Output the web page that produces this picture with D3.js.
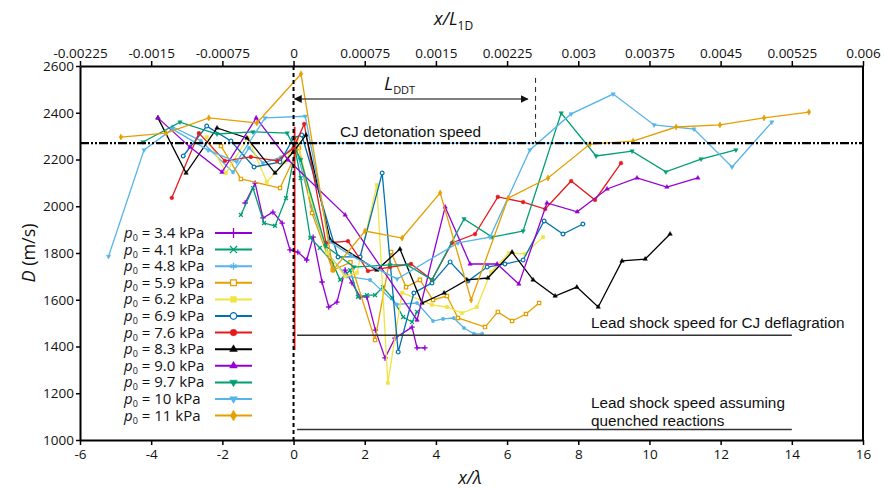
<!DOCTYPE html>
<html>
<head>
<meta charset="utf-8">
<script src="https://cdn.jsdelivr.net/npm/d3@7"></script>
<style>
body { margin: 0; background: #fff; }
text { font-family: "Open Sans", sans-serif; fill: #111; }
</style>
</head>
<body>
<div id="chart"></div>
<script>
// Variables
var width = 885,
	height = 489,
	plotLeft = 80, plotRight = 863, plotTop = 66, plotBottom = 440;

// Data : [x/lambda, D (m/s)]
var pressures = ["3.4", "4.1", "4.8", "5.9", "6.2", "6.9", "7.6", "8.3", "9.0", "9.7", "10", "11"];
var colors = ["#9400d3", "#009e73", "#56b4e9", "#e69f00", "#f0e442", "#0072b2", "#e41a1c", "#000000", "#9400d3", "#009e73", "#56b4e9", "#e69f00"];
var markers = ["plus", "times", "asterisk", "squareOpen", "square", "circleOpen", "circle", "triUp", "triUp", "triDown", "triDown", "diamond"];

var s34 = [[-1.36,2014],[-1.08,2099],[-0.86,1950],[-0.58,1975],[-0.32,1928],[-0.1,1813],[0.12,1804],[0.37,1770],[0.55,1868],[0.8,1676],[0.99,1569],[1.22,1590],[1.45,1727],[1.64,1672],[1.87,1612],[2.06,1612],[2.3,1470],[2.57,1351],[2.85,1436],[3.33,1483],[3.47,1394],[3.69,1394]];
var s41 = [[-1.48,1963],[-1.14,2078],[-0.83,1928],[-0.52,1916],[-0.21,2035],[0.05,2240],[0.2,2120],[0.47,1865],[0.74,1822],[1.08,1762],[1.31,1685],[1.59,1727],[1.81,1612],[2.06,1620],[2.29,1620],[2.51,1654],[2.77,1608],[3.08,1526],[3.33,1505],[3.47,1548]];
var s48 = [[-3.4,2340],[-2.6,2280],[-1.7,2146],[-1.25,2250],[-0.86,2185],[-0.35,2210],[0.05,2260],[0.5,2000],[1.0,1790],[1.5,1700],[2.15,1685],[2.9,1580],[3.47,1586],[3.92,1509],[4.2,1518],[4.5,1522],[4.79,1479],[5.07,1454],[5.3,1454]];
var s59 = [[-2.04,2258],[-1.48,2117],[-0.38,2078],[0.15,2250],[0.52,1971],[1.1,1727],[1.6,1760],[2.29,1428],[2.74,1804],[3.16,1654],[3.55,1685],[3.92,1599],[4.31,1616],[4.62,1522],[5.38,1483],[5.74,1548],[6.14,1509],[6.53,1539],[6.9,1586]];
var s62 = [[-2.44,2296],[-1.9,2142],[-1.28,2292],[-0.75,2104],[-0.24,2189],[0.1,2290],[0.45,2050],[0.95,1800],[1.45,1700],[1.78,1715],[2.34,2091],[2.65,1244],[3.05,1630],[3.89,1578],[4.31,1569],[4.73,1543],[5.15,1569],[5.55,1719],[6.05,1800],[6.5,1796],[7.01,1868]];
var s69 = [[-3.1,2215],[-2.44,2343],[-1.76,2279],[-1.11,2168],[-0.38,2189],[0.0,2292],[0.23,2305],[1.25,1783],[1.87,1783],[2.49,2142],[2.94,1376],[3.38,1629],[3.89,1672],[4.4,1762],[4.9,1680],[5.44,1740],[5.94,1753],[6.45,1770],[7.04,1937],[7.57,1881],[8.13,1924]];
var s76 = [[-3.42,2036],[-2.66,2313],[-1.93,2194],[-1.2,2211],[-0.46,2194],[0.0,2249],[0.3,2352],[0.91,1843],[1.53,1851],[2.09,1723],[2.71,1740],[3.3,1753],[3.89,1685],[4.45,1843],[5.1,1881],[5.74,2040],[6.45,2018],[7.07,1988],[7.8,2108],[8.47,2027],[9.2,2185]];
var s83 = [[-3.81,2378],[-3.02,2142],[-2.15,2335],[-1.31,2292],[-0.52,2142],[-0.01,2232],[0.35,2305],[1.03,1856],[2.34,1727],[2.99,1817],[3.61,1586],[4.23,1629],[4.87,1685],[5.46,1693],[6.14,1804],[6.73,1685],[7.35,1616],[7.96,1654],[8.56,1569],[9.23,1766],[9.88,1774],[10.58,1881]];
var s90 = [[-3.81,2378],[-2.91,2253],[-2.01,2146],[-1.05,2378],[-0.15,2198],[1.45,1963],[3.47,1513],[4.26,1997],[4.96,1753],[5.72,1753],[6.33,1667],[7.12,2014],[7.97,1976],[8.81,2074],[9.65,2121],[10.49,2082],[11.36,2121]];
var s97 = [[-4.23,2275],[-3.19,2360],[-2.15,2309],[-1.14,2318],[-0.18,2313],[0.2,2200],[0.9,1830],[1.7,1740],[2.71,1749],[3.19,1749],[3.89,1685],[4.79,1946],[5.58,1868],[6.45,1894],[7.52,2399],[8.5,2215],[9.51,2236],[10.46,2147],[11.45,2202],[12.43,2241]];
var s10 = [[-5.2,1785],[-4.2,2241],[-3.4,2330],[-2.4,2240],[-1.6,2190],[-0.8,2378],[0.33,2385],[1.0,1850],[1.6,1790],[2.91,1689],[4.62,1843],[5.52,1868],[6.64,2241],[7.8,2395],[8.98,2480],[10.13,2348],[11.25,2330],[12.32,2168],[13.44,2360]];
var s11 = [[-4.85,2296],[-3.58,2313],[-2.38,2378],[-1.03,2356],[0.21,2566],[1.11,1727],[2.01,1894],[3.05,1864],[4.12,2057],[4.99,1599],[6.03,2035],[7.15,2121],[8.33,2266],[9.54,2279],[10.75,2339],[11.98,2348],[13.22,2378],[14.48,2403]];
var allSeries = [s34, s41, s48, s59, s62, s69, s76, s83, s90, s97, s10, s11];

// reference values
var cjSpeed = 2270, cjDeflag = 1448, quenched = 1045;
var refStart = 0.1, refEnd = 14;
var lddt = 6.8, lddtArrowY = 2459, lddtTop = 2549;
var redDrop = [[0.03,2340],[0.03,1385]];
var cjBlue = [[0.05,2270],[8.3,2270]];

var xTicks = [-6,-4,-2,0,2,4,6,8,10,12,14,16];
var topTicks = [-0.00225,-0.0015,-0.00075,0,0.00075,0.0015,0.00225,0.003,0.00375,0.0045,0.00525,0.006];
var yTicks = [1000,1200,1400,1600,1800,2000,2200,2400,2600];

var svg = d3.select("#chart")
	.append("svg")
	.attr("width", width)
	.attr("height", height);

var x = d3.scaleLinear().domain([-6, 16]).range([plotLeft, plotRight]),
	xTop = d3.scaleLinear().domain([-0.00225, 0.006]).range([plotLeft, plotRight]),
	y = d3.scaleLinear().domain([1000, 2600]).range([plotBottom, plotTop]);

var line = d3.line()
	.x(function(d) { return x(d[0]); })
	.y(function(d) { return y(d[1]); });

// symbols
function symbolPath(kind, size) {
	var t = {
		plus: d3.symbolPlus, times: d3.symbolTimes, asterisk: d3.symbolAsterisk,
		squareOpen: d3.symbolSquare, square: d3.symbolSquare,
		circleOpen: d3.symbolCircle, circle: d3.symbolCircle,
		triUp: d3.symbolTriangle, triDown: d3.symbolTriangle, diamond: d3.symbolDiamond
	}[kind];
	return d3.symbol().type(t).size(size)();
}
function drawMarker(g, kind, col, cx, cy, size) {
	var strokeOnly = (kind == "plus" || kind == "times" || kind == "asterisk");
	var open = (kind == "squareOpen" || kind == "circleOpen");
	var tri = (kind == "triUp" || kind == "triDown");
	g.append("path")
		.attr("d", symbolPath(kind, tri ? size * 0.75 : size))
		.attr("transform", "translate(" + cx + "," + cy + ")" + (kind == "triDown" ? " rotate(180)" : ""))
		.attr("fill", strokeOnly ? "none" : (open ? "#fff" : col))
		.attr("stroke", col)
		.attr("stroke-width", strokeOnly ? 1.3 : (open ? 1.2 : 0.5));
}

// light blue trace under CJ line
svg.append("path")
	.datum(cjBlue)
	.attr("d", line)
	.attr("stroke", "#56b4e9")
	.attr("stroke-width", 1.2)
	.attr("fill", "none");

// series
var plot = svg.append("g");
allSeries.forEach(function(s, i) {
	plot.append("path")
		.datum(s)
		.attr("d", line)
		.attr("fill", "none")
		.attr("stroke", colors[i])
		.attr("stroke-width", 1.3);
	var mg = plot.append("g");
	s.forEach(function(d) {
		drawMarker(mg, markers[i], colors[i], x(d[0]), y(d[1]), 11);
	});
});

svg.append("path")
	.datum(redDrop)
	.attr("d", line)
	.attr("stroke", "#e41a1c")
	.attr("stroke-width", 1.8)
	.attr("fill", "none");

// CJ detonation line
svg.append("line")
	.attr("x1", x(-6)).attr("x2", x(16))
	.attr("y1", y(cjSpeed)).attr("y2", y(cjSpeed))
	.attr("stroke", "#000")
	.attr("stroke-width", 2.4)
	.attr("stroke-dasharray", "9,2,2,2,2,2");
var noteFont = "'Liberation Sans', Arial, sans-serif";
svg.append("text")
	.attr("x", 340).attr("y", y(cjSpeed) - 6)
	.style("font-family", noteFont)
	.style("font-size", "15.4px")
	.text("CJ detonation speed");

// x = 0 dashed line
svg.append("line")
	.attr("x1", x(0)).attr("x2", x(0))
	.attr("y1", plotTop).attr("y2", plotBottom)
	.attr("stroke", "#000")
	.attr("stroke-width", 2)
	.attr("stroke-dasharray", "4,3");

// Lead shock lines
[cjDeflag, quenched].forEach(function(v) {
	svg.append("line")
		.attr("x1", x(refStart)).attr("x2", x(refEnd))
		.attr("y1", y(v)).attr("y2", y(v))
		.attr("stroke", "#333")
		.attr("stroke-width", 1.5);
});
svg.append("text")
	.attr("x", 591).attr("y", y(cjDeflag) - 7)
	.style("font-family", noteFont).style("font-size", "15.3px")
	.text("Lead shock speed for CJ deflagration");
svg.append("text")
	.attr("x", 591).attr("y", 408)
	.style("font-family", noteFont).style("font-size", "15.3px")
	.text("Lead shock speed assuming");
svg.append("text")
	.attr("x", 591).attr("y", 426)
	.style("font-family", noteFont).style("font-size", "15.3px")
	.text("quenched reactions");

// L_DDT arrow
var defs = svg.append("defs");
defs.append("marker")
	.attr("id", "arr")
	.attr("viewBox", "0 0 10 10")
	.attr("refX", 9).attr("refY", 5)
	.attr("markerWidth", 8).attr("markerHeight", 8)
	.attr("markerUnits", "userSpaceOnUse")
	.attr("orient", "auto-start-reverse")
	.append("path")
	.attr("d", "M0,0L10,5L0,10z")
	.attr("fill", "#111");
svg.append("line")
	.attr("x1", x(0) + 1).attr("x2", x(6.58))
	.attr("y1", y(lddtArrowY)).attr("y2", y(lddtArrowY))
	.attr("stroke", "#555")
	.attr("stroke-width", 1.4)
	.attr("marker-start", "url(#arr)")
	.attr("marker-end", "url(#arr)");
svg.append("line")
	.attr("x1", x(lddt)).attr("x2", x(lddt))
	.attr("y1", y(lddtTop)).attr("y2", y(cjSpeed))
	.attr("stroke", "#222")
	.attr("stroke-width", 1)
	.attr("stroke-dasharray", "5,4");
var lt = svg.append("text").attr("x", 384).attr("y", 90).style("font-size", "19px");
lt.append("tspan").style("font-style", "italic").text("L");
lt.append("tspan").attr("dy", 4).style("font-size", "11px").text("DDT");

// Axes (plain hyphen for negatives, as in the figure)
var hyph = function(s) { return s.replace("\u2212", "-"); };
var xAxis = d3.axisBottom(x).tickValues(xTicks).tickSize(5).tickSizeOuter(0).tickPadding(4)
		.tickFormat(function(d) { return hyph(d3.format("d")(d)); }),
	topAxis = d3.axisTop(xTop).tickValues(topTicks).tickSize(5).tickSizeOuter(0).tickPadding(3)
		.tickFormat(function(d) { return d === 0 ? "0" : String(+d.toPrecision(4)); }),
	yAxis = d3.axisLeft(y).tickValues(yTicks).tickSize(4).tickSizeOuter(0).tickPadding(2).tickFormat(d3.format("d"));

function styleAxis(g) {
	g.select(".domain").attr("stroke", "#000").attr("stroke-width", 2);
	g.selectAll(".tick line").attr("stroke", "#000").attr("stroke-width", 1.5);
	g.selectAll(".tick text").style("font-family", "'Open Sans', sans-serif").style("font-size", "13.5px").attr("fill", "#111");
}
svg.append("g").attr("transform", "translate(0," + plotBottom + ")").call(xAxis).call(styleAxis);
svg.append("g").attr("transform", "translate(0," + plotTop + ")").call(topAxis).call(styleAxis);
svg.append("g").attr("transform", "translate(" + plotLeft + ",0)").call(yAxis).call(styleAxis);
svg.append("line")
	.attr("x1", plotRight).attr("x2", plotRight)
	.attr("y1", plotTop).attr("y2", plotBottom)
	.attr("stroke", "#000").attr("stroke-width", 2);

// Axis titles
var tt = svg.append("text").attr("x", 434).attr("y", 25).style("font-size", "18px");
tt.append("tspan").style("font-style", "italic").text("x/L");
tt.append("tspan").attr("dy", 5).style("font-size", "12px").text("1D");

var bt = svg.append("text").attr("x", 470).attr("y", 484).attr("text-anchor", "middle").style("font-size", "18px");
bt.append("tspan").style("font-style", "italic").text("x/λ");

var yl = svg.append("text")
	.attr("transform", "translate(35," + ((plotTop + plotBottom) / 2) + ") rotate(-90)")
	.attr("text-anchor", "middle")
	.style("font-size", "18px");
yl.append("tspan").style("font-style", "italic").text("D");
yl.append("tspan").text(" (m/s)");

// Legend
var legend = svg.append("g");
pressures.forEach(function(p, i) {
	var ly = 233 + i * 16.6;
	var t = legend.append("text").attr("x", 124).attr("y", ly + 5).style("font-size", "15px");
	t.append("tspan").style("font-style", "italic").text("p");
	t.append("tspan").attr("dy", 3).style("font-size", "9px").text("0");
	t.append("tspan").attr("dy", -3).text(" = " + p + " kPa");
	legend.append("line")
		.attr("x1", 215).attr("x2", 252)
		.attr("y1", ly).attr("y2", ly)
		.attr("stroke", colors[i]).attr("stroke-width", 2);
	drawMarker(legend, markers[i], colors[i], 233.5, ly, 34);
});
</script>
</body>
</html>
